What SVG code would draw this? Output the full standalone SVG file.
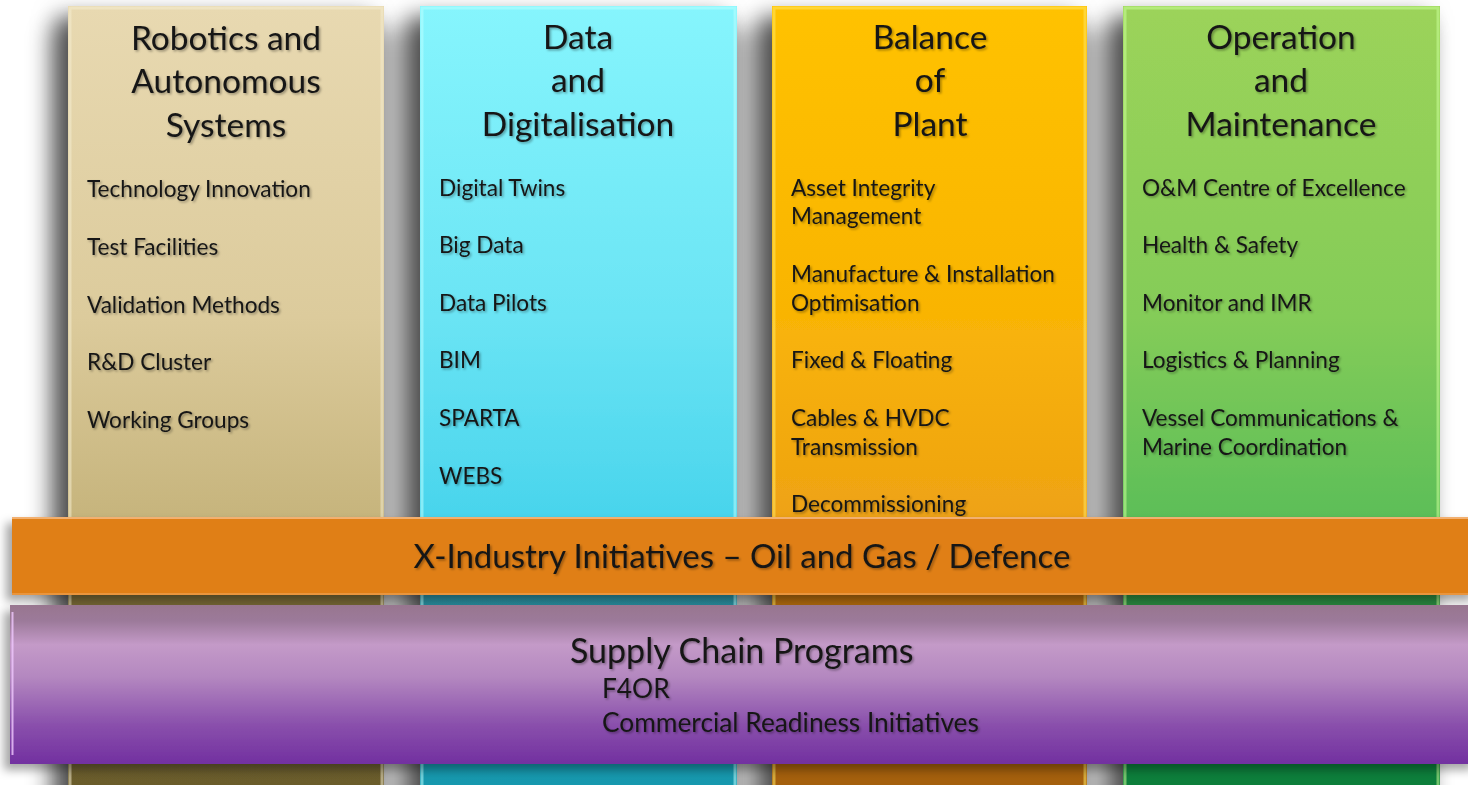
<svg xmlns="http://www.w3.org/2000/svg" width="1468" height="785" viewBox="0 0 1468 785">
<style>
text{font-family:Lato,"Open Sans","Liberation Sans",sans-serif;fill:#161616;filter:url(#ts)}
.t{font-size:33.5px;text-anchor:middle}
.i{font-size:22.6px}
.b{font-size:33px}
.sc{font-size:34px}
.s{font-size:26.3px}
.edge{fill:none;stroke-width:3;opacity:.55}
</style>
<defs>
<filter id="sh" x="-30%" y="-10%" width="160%" height="130%">
<feDropShadow dx="-12" dy="10" stdDeviation="11" flood-color="#000" flood-opacity="0.6"/>
</filter>
<filter id="bl" x="-10%" y="-10%" width="120%" height="130%">
<feGaussianBlur stdDeviation="12"/>
</filter>
<filter id="shb" x="-5%" y="-30%" width="110%" height="160%">
<feDropShadow dx="-6" dy="6" stdDeviation="5" flood-color="#000" flood-opacity="0.35"/>
</filter>
<filter id="ts" x="-5%" y="-20%" width="110%" height="150%">
<feDropShadow dx="1.5" dy="1.5" stdDeviation="1" flood-color="#000" flood-opacity="0.35"/>
</filter>
<linearGradient id="g1" gradientUnits="userSpaceOnUse" x1="0" y1="6" x2="0" y2="785">
<stop offset="0" stop-color="#e8d9b1"/><stop offset="0.4" stop-color="#dccb9c"/><stop offset="0.66" stop-color="#c6b47c"/><stop offset="0.75" stop-color="#786836"/><stop offset="1" stop-color="#6a5c2c"/>
</linearGradient>
<linearGradient id="g2" gradientUnits="userSpaceOnUse" x1="0" y1="6" x2="0" y2="785">
<stop offset="0" stop-color="#86f5fd"/><stop offset="0.4" stop-color="#6ae4f4"/><stop offset="0.66" stop-color="#48d4ec"/><stop offset="0.75" stop-color="#2a8c9c"/><stop offset="1" stop-color="#1298ae"/>
</linearGradient>
<linearGradient id="g3" gradientUnits="userSpaceOnUse" x1="0" y1="6" x2="0" y2="785">
<stop offset="0" stop-color="#ffc200"/><stop offset="0.4" stop-color="#f9b406"/><stop offset="0.66" stop-color="#eea214"/><stop offset="0.75" stop-color="#b06a10"/><stop offset="1" stop-color="#a4600c"/>
</linearGradient>
<linearGradient id="g4" gradientUnits="userSpaceOnUse" x1="0" y1="6" x2="0" y2="785">
<stop offset="0" stop-color="#9cd35a"/><stop offset="0.4" stop-color="#84cc58"/><stop offset="0.66" stop-color="#5cbe58"/><stop offset="0.75" stop-color="#2e8a40"/><stop offset="1" stop-color="#0a7e3a"/>
</linearGradient>
<linearGradient id="gp" gradientUnits="userSpaceOnUse" x1="0" y1="605" x2="0" y2="764">
<stop offset="0" stop-color="#98768f"/><stop offset="0.1" stop-color="#9c7a9a"/><stop offset="0.25" stop-color="#c49ac8"/><stop offset="0.45" stop-color="#b488c0"/><stop offset="0.75" stop-color="#8a50ac"/><stop offset="1" stop-color="#7230a0"/>
</linearGradient>
</defs>
<rect width="1468" height="785" fill="#fff"/>
<rect x="48" y="28" width="1380" height="790" fill="#000" opacity="0.27" filter="url(#bl)"/>

<g id="col-robotics">
<rect x="68" y="6" width="316" height="800" fill="url(#g1)" filter="url(#sh)"/>
<rect x="70" y="8" width="312" height="800" class="edge" stroke="#f4ecd0"/>
<text class="t" x="226" y="50">Robotics and</text>
<text class="t" x="226" y="93">Autonomous</text>
<text class="t" x="226" y="137">Systems</text>
<text class="i" x="87" y="197">Technology Innovation</text>
<text class="i" x="87" y="255">Test Facilities</text>
<text class="i" x="87" y="313">Validation Methods</text>
<text class="i" x="87" y="370">R&amp;D Cluster</text>
<text class="i" x="87" y="428">Working Groups</text>
</g>

<g id="col-data">
<rect x="420" y="6" width="317" height="800" fill="url(#g2)" filter="url(#sh)"/>
<rect x="422" y="8" width="313" height="800" class="edge" stroke="#b8ffff"/>
<text class="t" x="578" y="49">Data</text>
<text class="t" x="578" y="92">and</text>
<text class="t" x="578" y="136">Digitalisation</text>
<text class="i" x="439" y="196">Digital Twins</text>
<text class="i" x="439" y="253">Big Data</text>
<text class="i" x="439" y="311">Data Pilots</text>
<text class="i" x="439" y="368">BIM</text>
<text class="i" x="439" y="426">SPARTA</text>
<text class="i" x="439" y="484">WEBS</text>
</g>

<g id="col-bop">
<rect x="772" y="6" width="315" height="800" fill="url(#g3)" filter="url(#sh)"/>
<rect x="774" y="8" width="311" height="800" class="edge" stroke="#ffe860"/>
<text class="t" x="930" y="49">Balance</text>
<text class="t" x="930" y="92">of</text>
<text class="t" x="930" y="136">Plant</text>
<text class="i" x="791" y="196">Asset Integrity</text>
<text class="i" x="791" y="224">Management</text>
<text class="i" x="791" y="282">Manufacture &amp; Installation</text>
<text class="i" x="791" y="311">Optimisation</text>
<text class="i" x="791" y="368">Fixed &amp; Floating</text>
<text class="i" x="791" y="426">Cables &amp; HVDC</text>
<text class="i" x="791" y="455">Transmission</text>
<text class="i" x="791" y="512">Decommissioning</text>
</g>

<g id="col-om">
<rect x="1123" y="6" width="317" height="800" fill="url(#g4)" filter="url(#sh)"/>
<rect x="1125" y="8" width="313" height="800" class="edge" stroke="#c8ff98"/>
<text class="t" x="1281" y="49">Operation</text>
<text class="t" x="1281" y="92">and</text>
<text class="t" x="1281" y="136">Maintenance</text>
<text class="i" x="1142" y="196">O&amp;M Centre of Excellence</text>
<text class="i" x="1142" y="253">Health &amp; Safety</text>
<text class="i" x="1142" y="311">Monitor and IMR</text>
<text class="i" x="1142" y="368">Logistics &amp; Planning</text>
<text class="i" x="1142" y="426">Vessel Communications &amp;</text>
<text class="i" x="1142" y="455">Marine Coordination</text>
</g>

<g id="bar-xindustry">
<rect x="12" y="517" width="1466" height="78" fill="#e07f12" filter="url(#shb)"/>
<line x1="12" y1="518" x2="1468" y2="518" stroke="#f2b070" stroke-width="2"/>
<line x1="12" y1="594" x2="1468" y2="594" stroke="#f0a860" stroke-width="1.5" opacity=".7"/>
<text class="b" x="742" y="568" text-anchor="middle">X-Industry Initiatives – Oil and Gas / Defence</text>
</g>

<g id="bar-supply">
<rect x="10" y="605" width="1468" height="159" fill="url(#gp)" filter="url(#shb)"/>
<line x1="12.5" y1="612" x2="12.5" y2="755" stroke="#f0c8ff" stroke-width="2" opacity=".8"/>
<text class="sc" x="570" y="663">Supply Chain Programs</text>
<text class="s" x="602" y="698">F4OR</text>
<text class="s" x="602" y="732">Commercial Readiness Initiatives</text>
</g>

<g id="connectors"></g>
</svg>
